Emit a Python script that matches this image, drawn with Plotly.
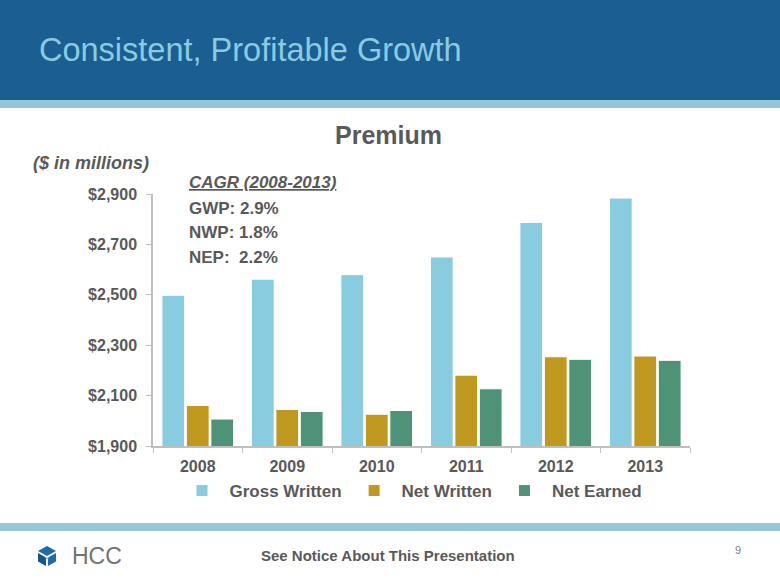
import plotly.graph_objects as go

years = ["2008", "2009", "2010", "2011", "2012", "2013"]
gross_written = [2498, 2562, 2580, 2650, 2787, 2884]
net_written = [2061, 2045, 2026, 2181, 2254, 2257]
net_earned = [2007, 2037, 2041, 2127, 2244, 2240]
y_ticks = [1900, 2100, 2300, 2500, 2700, 2900]
cagr_lines = ["GWP: 2.9%", "NWP: 1.8%", "NEP:  2.2%"]

W, H = 780, 585
L, R, T, B = 153, 90, 194, 139
PW, PH = W - L - R, H - T - B


def px(x):
    return (x - L) / PW


def py(y):
    return (H - B - y) / PH


FONT = "Liberation Sans, Arial, sans-serif"
GRAY = "#595959"

fig = go.Figure()
fig.add_trace(go.Bar(name="<b>Gross Written</b>", x=years, y=gross_written,
                     marker=dict(color="#89CBDF", line=dict(color="white", width=1))))
fig.add_trace(go.Bar(name="<b>Net Written</b>", x=years, y=net_written,
                     marker=dict(color="#BE991E", line=dict(color="white", width=1))))
fig.add_trace(go.Bar(name="<b>Net Earned</b>", x=years, y=net_earned,
                     marker=dict(color="#4E9278", line=dict(color="white", width=1))))

shapes = []
# header band
shapes.append(dict(type="rect", xref="paper", yref="paper", x0=px(0), x1=px(W), y0=py(0), y1=py(100),
                   fillcolor="#1A5E92", line=dict(width=0), layer="below"))
shapes.append(dict(type="rect", xref="paper", yref="paper", x0=px(0), x1=px(W), y0=py(100), y1=py(108),
                   fillcolor="#97C6D8", line=dict(width=0), layer="below"))
# footer stripe
shapes.append(dict(type="rect", xref="paper", yref="paper", x0=px(0), x1=px(W), y0=py(523), y1=py(531),
                   fillcolor="#97C6D8", line=dict(width=0), layer="below"))


def poly(points, color):
    d = "M " + " L ".join(f"{px(a):.5f},{py(b):.5f}" for a, b in points) + " Z"
    return dict(type="path", xref="paper", yref="paper", path=d, fillcolor=color, line=dict(width=0))


# logo cube
shapes.append(poly([(47, 546), (56, 551), (47, 556), (38, 551)], "#1C6BAF"))
shapes.append(poly([(38, 553), (46, 557.5), (46, 566), (38, 561.5)], "#15548C"))
shapes.append(poly([(48, 557.5), (56, 553), (56, 561.5), (48, 566)], "#1C6BAF"))
shapes.append(poly([(44, 556), (47, 557.5), (50, 556), (47, 560)], "#B8B8B8"))

annotations = [
    dict(text="Consistent, Profitable Growth", x=px(37), y=py(50), xref="paper", yref="paper",
         xanchor="left", yanchor="middle", showarrow=False,
         font=dict(family=FONT, size=32.5, color="#8ACBE0")),
    dict(text="<b>Premium</b>", x=px(388), y=py(135), xref="paper", yref="paper",
         xanchor="center", yanchor="middle", showarrow=False,
         font=dict(family=FONT, size=25, color=GRAY)),
    dict(text="<b><i>($ in millions)</i></b>", x=px(151), y=py(163), xref="paper", yref="paper",
         xanchor="right", yanchor="middle", showarrow=False,
         font=dict(family=FONT, size=18, color=GRAY)),
    dict(text="<b><i><u>CAGR (2008-2013)</u></i></b>", x=px(187), y=py(182), xref="paper", yref="paper",
         xanchor="left", yanchor="middle", showarrow=False,
         font=dict(family=FONT, size=17, color=GRAY)),
    dict(text="<b>See Notice About This Presentation</b>", x=px(388), y=py(555), xref="paper", yref="paper",
         xanchor="center", yanchor="middle", showarrow=False,
         font=dict(family=FONT, size=15, color=GRAY)),
    dict(text="9", x=px(738), y=py(550), xref="paper", yref="paper",
         xanchor="center", yanchor="middle", showarrow=False,
         font=dict(family=FONT, size=11, color="#808080")),
    dict(text="HCC", x=px(70), y=py(556), xref="paper", yref="paper",
         xanchor="left", yanchor="middle", showarrow=False,
         font=dict(family="Liberation Sans Narrow, Liberation Sans, Arial", size=23, color="#737373")),
]
for i, line in enumerate(cagr_lines):
    annotations.append(dict(text=f"<b>{line}</b>", x=px(187), y=py(208 + 24.5 * i), xref="paper", yref="paper",
                            xanchor="left", yanchor="middle", showarrow=False,
                            font=dict(family=FONT, size=17, color=GRAY)))

fig.update_layout(
    width=W, height=H,
    margin=dict(l=L, r=R, t=T, b=B),
    paper_bgcolor="white", plot_bgcolor="white",
    barmode="group", bargap=0.18, bargroupgap=0.07,
    font=dict(family=FONT, color=GRAY),
    showlegend=True,
    legend=dict(orientation="h", x=px(411), xanchor="center", y=py(491), yanchor="middle",
                font=dict(family=FONT, size=17, color=GRAY), traceorder="normal",
                itemwidth=45, bgcolor="rgba(0,0,0,0)"),
    shapes=shapes,
    annotations=annotations,
    xaxis=dict(type="category", showline=True, linecolor="#BFBFBF", linewidth=1.5,
               ticks="outside", tickson="boundaries", ticklen=5, tickcolor="#BFBFBF",
               tickfont=dict(family=FONT, size=16, color=GRAY), showgrid=False,
               tickvals=years, ticktext=[f"<b>{y}</b>" for y in years], ticklabelstandoff=5),
    yaxis=dict(range=[1900, 2900], tickvals=y_ticks,
               ticktext=[f"<b>${v:,.0f}</b>" for v in y_ticks],
               showline=True, linecolor="#BFBFBF", linewidth=1.5, ticks="outside", ticklen=5,
               tickcolor="#BFBFBF", showgrid=False, zeroline=False,
               tickfont=dict(family=FONT, size=16, color=GRAY), ticklabelstandoff=6),
)

fig.write_html("out.html", config={"displayModeBar": False},
               post_script="document.body.style.margin='0';document.body.style.overflow='hidden';")
